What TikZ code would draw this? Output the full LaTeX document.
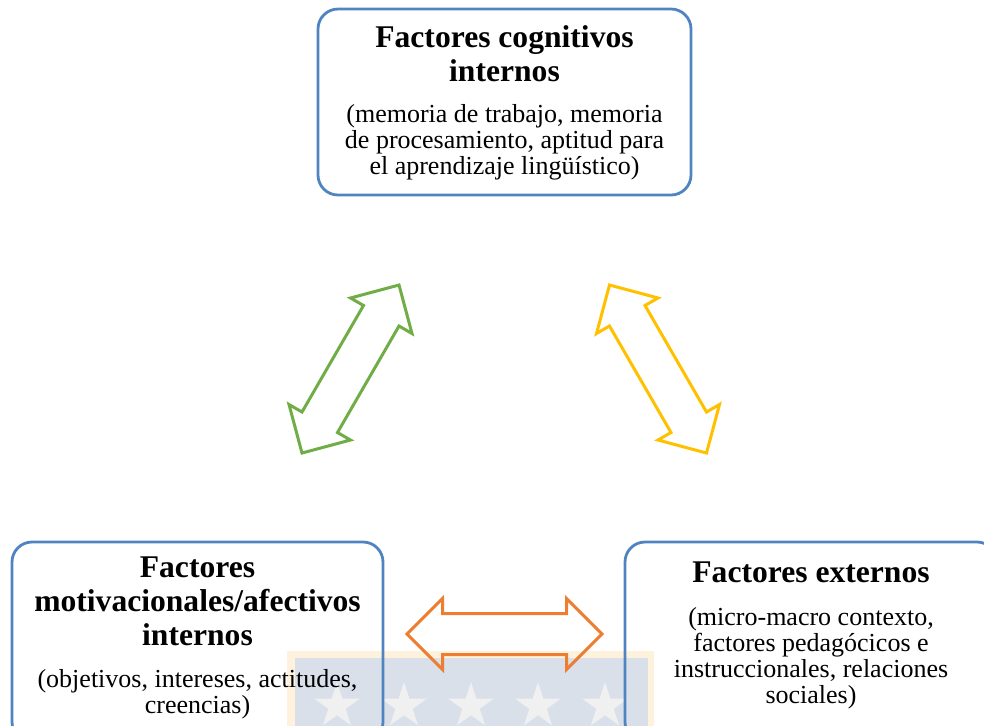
\documentclass[tikz,border=0pt]{standalone}
\usepackage{fontspec}
\setmainfont{Liberation Serif}
\usetikzlibrary{shapes.arrows,calc}

\definecolor{boxblue}{RGB}{80,132,192}
\definecolor{argreen}{RGB}{112,173,71}
\definecolor{aryellow}{RGB}{255,192,0}
\definecolor{arorange}{RGB}{237,125,49}
\definecolor{wmcream}{RGB}{255,242,220}
\definecolor{wmblue}{RGB}{217,224,233}
\definecolor{wmstar}{RGB}{240,240,240}

\newcommand\titlefont{\fontsize{15.8}{17}\selectfont\bfseries}
\newcommand\bodyfont{\fontsize{13}{13}\selectfont}
\newcommand\stack[1]{\begin{tabular}[t]{@{}c@{}}#1\end{tabular}}

\begin{document}
\begin{tikzpicture}[x=0.5pt,y=-0.5pt,
  factorbox/.style={draw=boxblue, line width=1.4pt, rounded corners=10pt, inner sep=0pt},
  heading/.style={anchor=base, inner sep=0pt, font=\titlefont},
  detail/.style={anchor=base, inner sep=0pt, font=\bodyfont},
  link/.style={double arrow, double arrow head extend=7.5pt,
    minimum width=34pt, minimum height=97pt, inner xsep=0pt, inner ysep=9.5pt,
    line width=1.5pt}]

\useasboundingbox (0,0) rectangle (984,725);

% faint seal in the lower middle
\fill[wmcream] (287,651) rectangle (654,735);
\fill[wmblue] (295,658) rectangle (648,735);
\foreach \cx in {337,404,471,538,605}{
  \fill[wmstar] (\cx,706) ++(-90:24)
    \foreach \k in {1,...,9}{ -- ($(\cx,706)+({-90+36*\k}:{mod(\k,2)==1 ? 9.2 : 24})$) } -- cycle;
}

% the three groups of factors
\node[factorbox, minimum width=186.5pt, minimum height=93pt] (cog) at (504.5,102) {};
\node[factorbox, minimum width=185.5pt, minimum height=100pt] (mot) at (197.5,642) {};
\node[factorbox, minimum width=186pt, minimum height=100pt] (ext) at (811,642) {};

\node[heading] (cogT) at (504.5,47) {\stack{Factores cognitivos\\internos}};
\node[detail] (cogD) at (504.5,122) {\stack{(memoria de trabajo, memoria\\de procesamiento, aptitud para\\el aprendizaje lingüístico)}};

\node[heading] (motT) at (197.5,577) {\stack{Factores\\motivacionales/afectivos\\internos}};
\node[detail] (motD) at (197.5,687) {\stack{(objetivos, intereses, actitudes,\\creencias)}};

\node[heading] (extT) at (811,582) {Factores externos};
\node[detail] (extD) at (811,625) {\stack{(micro-macro contexto,\\factores pedagócicos e\\instruccionales, relaciones\\sociales)}};

% two-way relations
\node[link, draw=argreen, rotate=60] (cogmot) at (350.5,369) {};
\node[link, draw=aryellow, rotate=-60] (cogext) at (658,369) {};
\node[link, draw=arorange, minimum height=97.5pt] (motext) at (504.5,634) {};

\end{tikzpicture}
\end{document}
